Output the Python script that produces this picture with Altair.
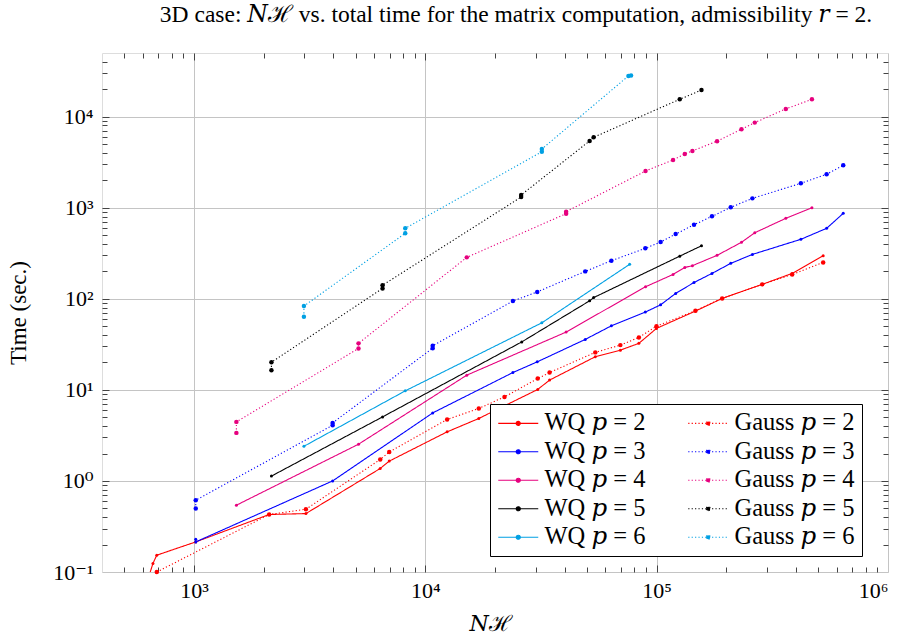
import altair as alt
import pandas as pd

# ---- data ----
wq2_x = [645, 664, 690, 1017, 2112, 3045, 6380, 6980, 12420, 17020, 30600, 34430, 54270, 69660, 83750, 99800, 147100, 191900, 285800, 385300, 524500]
wq2_y = [0.098, 0.124, 0.153, 0.214, 0.428, 0.438, 1.37, 1.65, 3.46, 4.85, 10.1, 12.8, 23.1, 27.3, 32.4, 47.3, 73.3, 101, 144, 190, 297]
ga2_x = [690, 2112, 3045, 6380, 6980, 12420, 17020, 21980, 30600, 34430, 54270, 69660, 83750, 99800, 147100, 191900, 285800, 385300, 524500]
ga2_y = [0.1, 0.428, 0.489, 1.72, 2.08, 4.73, 6.25, 8.37, 13.3, 15.5, 25.8, 31.0, 37.6, 50.1, 74, 101, 144, 185, 251]

wq3_x = [1017, 1017, 3973, 10755, 23900, 30450, 49100, 63700, 89300, 104000, 120800, 145000, 173400, 209000, 259300, 420000, 542800, 640500]
wq3_y = [0.229, 0.214, 1.0, 5.58, 15.5, 20.3, 35.8, 50.5, 71.4, 85.9, 114.6, 151, 190, 245, 307, 450, 594, 867]
ga3_x = [1017, 1017, 3973, 3973, 10755, 10755, 23900, 30450, 49100, 63700, 89300, 104000, 120800, 145000, 173400, 209000, 259300, 420000, 542800, 640500]
ga3_y = [0.497, 0.614, 4.09, 4.34, 28.7, 30.5, 94.4, 119, 200, 262, 358, 420, 514, 650, 804, 1010, 1267, 1854, 2329, 2924]

wq4_x = [1524, 5140, 15100, 40600, 89500, 117700, 132300, 142700, 182400, 232600, 265500, 361600, 469000]
wq4_y = [0.541, 2.53, 14.5, 43.1, 135.6, 185, 221, 231, 300, 417, 531, 765, 1000]
ga4_x = [1524, 1524, 5140, 5140, 15100, 40600, 40600, 89500, 117700, 132300, 142700, 182400, 232600, 265500, 361600, 469000]
ga4_y = [3.37, 4.45, 28.5, 32.4, 285, 860, 905, 2530, 3340, 3890, 4200, 5370, 7280, 8600, 12160, 15500]

wq5_x = [2160, 6530, 26100, 51300, 53400, 125800, 156200]
wq5_y = [1.13, 5.05, 33.6, 95, 103, 294, 382]
ga5_x = [2160, 2160, 6530, 6530, 25950, 25950, 51300, 53400, 125800, 156200]
ga5_y = [16.4, 20.1, 130, 141, 1310, 1380, 5410, 5940, 15500, 19600]

wq6_x = [2985, 8185, 31880, 76400]
wq6_y = [2.40, 9.75, 54.5, 239]
ga6_x = [2985, 2985, 8185, 8185, 31880, 31880, 75500, 77500]
ga6_y = [63.4, 83.2, 524, 594, 4120, 4410, 28000, 28300]

series = [
    ("WQ", 2, wq2_x, wq2_y), ("WQ", 3, wq3_x, wq3_y), ("WQ", 4, wq4_x, wq4_y),
    ("WQ", 5, wq5_x, wq5_y), ("WQ", 6, wq6_x, wq6_y),
    ("Gauss", 2, ga2_x, ga2_y), ("Gauss", 3, ga3_x, ga3_y), ("Gauss", 4, ga4_x, ga4_y),
    ("Gauss", 5, ga5_x, ga5_y), ("Gauss", 6, ga6_x, ga6_y),
]
p_colors = {2: "#ff0000", 3: "#0000ff", 4: "#e6007e", 5: "#000000", 6: "#00a0e3"}

x_major = [1e3, 1e4, 1e5, 1e6]
y_major = [0.1, 1, 10, 100, 1e3, 1e4]
x_minor = [m * d for d in [100, 1000, 10000, 100000] for m in range(2, 10) if 400 < m * d < 1e6]
y_minor = [m * d for d in [0.1, 1, 10, 100, 1000, 10000] for m in range(2, 10) if m * d < 5e4]

rows = []
names = []
colors = []
dashes = []
for method, p, xs, ys in series:
    name = f"{method} 𝑝 = {p}"
    names.append(name)
    colors.append(p_colors[p])
    dashes.append([1, 0] if method == "WQ" else [1.2, 2.2])
    for i, (xv, yv) in enumerate(zip(xs, ys)):
        rows.append({"series": name, "method": method, "x": xv, "y": yv, "idx": i})
df = pd.DataFrame(rows)

FONT = "Liberation Serif, DejaVu Serif"
W, H = 786, 519

xs_ = alt.Scale(type="log", domain=[400, 1e6], nice=False)
ys_ = alt.Scale(type="log", domain=[0.1, 5e4], nice=False)

sup = "['⁻¹','⁰','¹','²','³','⁴','⁵','⁶'][round(log(datum.value)/LN10)+1]"
lab_expr = "'10' + " + sup

legend = alt.Legend(
    orient="none", legendX=388, legendY=351, columns=2, title=None,
    symbolType="M-2,0H2M-0.2,0A0.2,0.2,0,1,0,0.2,0A0.2,0.2,0,1,0,-0.2,0Z",
    symbolSize=400, symbolStrokeWidth=1.2, symbolOffset=9,
    labelFont=FONT, labelFontSize=24.5, labelColor="black", labelOffset=14, labelLimit=300,
    columnPadding=39, rowPadding=3.5, padding=7,
    strokeColor="black", fillColor="white", cornerRadius=0,
)
cscale = alt.Scale(domain=names, range=colors)
dscale = alt.Scale(domain=names, range=dashes)


def carrier(xaxis, yaxis):
    return alt.Chart(df).mark_point(opacity=0).encode(
        x=alt.X("x:Q", scale=xs_, axis=xaxis),
        y=alt.Y("y:Q", scale=ys_, axis=yaxis),
    )


def tick_axis(orient, values, size):
    return alt.Axis(orient=orient, values=values, offset=-size, tickSize=size, ticks=True,
                    labels=False, domain=False, grid=False, title=None,
                    tickColor="#444444", tickWidth=1)


main = carrier(
    alt.Axis(values=x_major, labelExpr=lab_expr, grid=True, ticks=False, tickSize=0, domain=False,
             labelFont=FONT, labelFontSize=22, labelColor="black", labelPadding=8,
             title="𝑁ℋ", titleFont=FONT, titleFontSize=22, titleFontWeight="normal",
             titleColor="black", titleX=W / 2 - 5, titleY=51, titleBaseline="middle",
             gridColor="#c4c4c4", gridWidth=1),
    alt.Axis(values=y_major, labelExpr=lab_expr, grid=True, ticks=False, tickSize=0, domain=False,
             labelFont=FONT, labelFontSize=22, labelColor="black", labelPadding=9,
             title="Time (sec.)", titleFont=FONT, titleFontSize=23, titleFontWeight="normal",
             titleColor="black", titleX=-84, titleY=H / 2, titleBaseline="middle",
             gridColor="#c4c4c4", gridWidth=1),
)
t1 = carrier(tick_axis("bottom", x_major[:-1], 7), tick_axis("left", y_major[1:], 7))
t2 = carrier(tick_axis("bottom", x_minor, 5), tick_axis("left", y_minor, 5))
t3 = carrier(tick_axis("top", x_major[:-1], 7), tick_axis("right", y_major[1:], 7))
t4 = carrier(tick_axis("top", x_minor, 5), tick_axis("right", y_minor, 5))

lines = alt.Chart(df).mark_line(clip=True, strokeWidth=1.1).encode(
    x=alt.X("x:Q", scale=xs_, axis=None),
    y=alt.Y("y:Q", scale=ys_, axis=None),
    color=alt.Color("series:N", scale=cscale, legend=legend),
    strokeDash=alt.StrokeDash("series:N", scale=dscale, legend=legend),
    order="idx:Q",
)

pts_wq = alt.Chart(df).transform_filter(
    "datum.method == 'WQ' && datum.y >= 0.1"
).mark_circle(size=9, opacity=1).encode(
    x=alt.X("x:Q", scale=xs_, axis=None),
    y=alt.Y("y:Q", scale=ys_, axis=None),
    color=alt.Color("series:N", scale=cscale, legend=None),
)
pts_ga = alt.Chart(df).transform_filter(
    "datum.method == 'Gauss' && datum.y >= 0.1"
).mark_circle(size=20, opacity=1).encode(
    x=alt.X("x:Q", scale=xs_, axis=None),
    y=alt.Y("y:Q", scale=ys_, axis=None),
    color=alt.Color("series:N", scale=cscale, legend=None),
)

chart = alt.layer(main, t1, t2, t3, t4, lines, pts_wq, pts_ga).resolve_axis(
    x="independent", y="independent"
).properties(
    width=W, height=H,
    autosize=alt.AutoSizeParams(type="none"),
    padding={"left": 102, "top": 53, "right": 17, "bottom": 62},
    title=alt.Title(
        "3D case: 𝑁ℋ vs. total time for the matrix computation, admissibility 𝑟 = 2.",
        font=FONT, fontSize=23.5, fontWeight="normal", color="black",
        anchor="middle", dx=21, offset=26,
    ),
).configure_view(stroke="black", strokeWidth=1.2).configure(background="white")

chart.save("out.html", embed_options={"renderer": "svg", "actions": False})
